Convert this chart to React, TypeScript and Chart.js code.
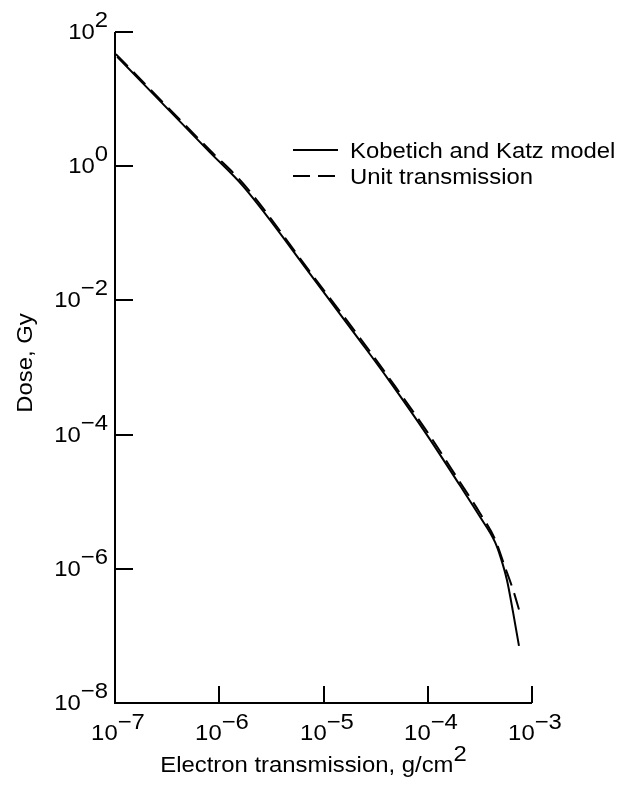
import React, { useEffect, useRef } from 'react';
import { Chart, registerables } from 'chart.js';

Chart.register(...registerables);

// Kobetich and Katz model (solid)
const kkX = [1.05e-7, 8.1e-7, 1.7e-6, 7.9e-6, 2.24e-5, 4.2e-5, 1.0e-4, 2.04e-4, 3.16e-4, 4.42e-4, 5.0e-4, 5.75e-4, 6.6e-4, 7.5e-4];
const kkY = [42.7, 1.62, 0.5, 0.0219, 2.5e-3, 6.6e-4, 9.5e-5, 1.74e-5, 6.0e-6, 2.5e-6, 1.48e-6, 6.8e-7, 2.2e-7, 7.1e-8];

// Unit transmission (dashed)
const utX = [1.02e-7, 8.1e-7, 1.7e-6, 7.9e-6, 2.24e-5, 4.2e-5, 1.0e-4, 2.04e-4, 3.16e-4, 4.42e-4, 5.5e-4, 6.6e-4, 7.67e-4];
const utY = [46.8, 1.74, 0.55, 0.0234, 2.75e-3, 7.2e-4, 1.07e-4, 1.95e-5, 6.8e-6, 2.75e-6, 1.07e-6, 4.8e-7, 2.2e-7];

const seriesLabels = ['Kobetich and Katz model', 'Unit transmission'];
const xTickExps = [-7, -6, -5, -4, -3];
const yTickExps = [2, 0, -2, -4, -6, -8];
const xTitle = 'Electron transmission, g/cm';
const xTitleSup = '2';
const yTitle = 'Dose, Gy';

const FONT = '"Liberation Sans", Arial, Helvetica, sans-serif';
const BASE = 22;
const SUP = 22;
const SX = 1.085;
const DASH = [17, 8];

function expText(e: number) {
  return e < 0 ? '\u2212' + String(-e) : String(e);
}

function tw(ctx: CanvasRenderingContext2D, text: string, size: number) {
  ctx.font = `${size}px ${FONT}`;
  return ctx.measureText(text).width * SX;
}

function dt(ctx: CanvasRenderingContext2D, text: string, x: number, y: number, size: number) {
  ctx.save();
  ctx.font = `${size}px ${FONT}`;
  ctx.textAlign = 'left';
  ctx.textBaseline = 'alphabetic';
  ctx.translate(x, y);
  ctx.scale(SX, 1);
  ctx.fillText(text, 0, 0);
  ctx.restore();
}

const customAxes = {
  id: 'customAxes',
  afterDraw(chart: any) {
    const ctx = chart.ctx as CanvasRenderingContext2D;
    const xs = chart.scales.x;
    const ys = chart.scales.y;
    const area = chart.chartArea;
    ctx.save();
    ctx.strokeStyle = '#000';
    ctx.fillStyle = '#000';
    ctx.lineWidth = 2;
    ctx.lineCap = 'butt';

    // axis lines
    ctx.beginPath();
    ctx.moveTo(area.left, area.top);
    ctx.lineTo(area.left, area.bottom);
    ctx.lineTo(area.right, area.bottom);
    ctx.stroke();

    // y ticks + labels
    yTickExps.forEach((e) => {
      const py = Math.round(ys.getPixelForValue(Math.pow(10, e)));
      ctx.beginPath();
      ctx.moveTo(area.left, py);
      ctx.lineTo(area.left + 18, py);
      ctx.stroke();
      const sup = expText(e);
      const ws = tw(ctx, sup, SUP);
      const wb = tw(ctx, '10', BASE);
      const right = area.left - 7;
      dt(ctx, sup, right - ws, py - 5, SUP);
      dt(ctx, '10', right - ws - wb, py + 7, BASE);
    });

    // x ticks + labels
    xTickExps.forEach((e) => {
      const px = Math.round(xs.getPixelForValue(Math.pow(10, e)));
      ctx.beginPath();
      ctx.moveTo(px, area.bottom);
      ctx.lineTo(px, area.bottom - 17);
      ctx.stroke();
      const sup = expText(e);
      const wb = tw(ctx, '10', BASE);
      const ws = tw(ctx, sup, SUP);
      const start = px + 3 - (wb + ws) / 2;
      dt(ctx, '10', start, area.bottom + 37, BASE);
      dt(ctx, sup, start + wb, area.bottom + 26, SUP);
    });

    // x title
    const wt = tw(ctx, xTitle, BASE);
    const wts = tw(ctx, xTitleSup, SUP);
    const tStart = (area.left + area.right) / 2 - 10 - (wt + wts) / 2;
    dt(ctx, xTitle, tStart, area.bottom + 69, BASE);
    dt(ctx, xTitleSup, tStart + wt, area.bottom + 58, SUP);

    // y title
    ctx.save();
    ctx.translate(32, 363);
    ctx.rotate(-Math.PI / 2);
    const wy = tw(ctx, yTitle, BASE);
    dt(ctx, yTitle, -wy / 2, 0, BASE);
    ctx.restore();

    // legend
    const lx0 = 293, lx1 = 338, tx = 350;
    ctx.lineWidth = 2;
    ctx.beginPath();
    ctx.moveTo(lx0, 150);
    ctx.lineTo(lx1, 150);
    ctx.stroke();
    ctx.setLineDash(DASH);
    ctx.beginPath();
    ctx.moveTo(lx0, 176);
    ctx.lineTo(lx1, 176);
    ctx.stroke();
    ctx.setLineDash([]);
    dt(ctx, seriesLabels[0], tx, 158, BASE);
    dt(ctx, seriesLabels[1], tx, 184, BASE);

    ctx.restore();
  },
};

export default function App() {
  const ref = useRef<HTMLCanvasElement | null>(null);
  useEffect(() => {
    if (!ref.current) return;
    const chart = new Chart(ref.current, {
      type: 'line',
      data: {
        datasets: [
          {
            label: seriesLabels[0],
            data: kkX.map((x, i) => ({ x, y: kkY[i] })),
            borderColor: '#000',
            borderWidth: 2,
            pointRadius: 0,
            cubicInterpolationMode: 'monotone',
            fill: false,
            clip: false as any,
          },
          {
            label: seriesLabels[1],
            data: utX.map((x, i) => ({ x, y: utY[i] })),
            borderColor: '#000',
            borderWidth: 2,
            borderDash: DASH,
            pointRadius: 0,
            cubicInterpolationMode: 'monotone',
            fill: false,
            clip: false as any,
          },
        ],
      },
      options: {
        animation: false,
        responsive: false,
        devicePixelRatio: 1,
        layout: { padding: { left: 115, right: 88, top: 32, bottom: 82 } },
        plugins: { legend: { display: false }, tooltip: { enabled: false } },
        scales: {
          x: { type: 'logarithmic', min: 1e-7, max: 1e-3, display: false },
          y: { type: 'logarithmic', min: 1e-8, max: 1e2, display: false },
        },
      },
      plugins: [customAxes],
    });
    return () => chart.destroy();
  }, []);
  return (
    <div style={{ position: 'absolute', left: 0, top: 0, width: 620, height: 785, background: '#fff' }}>
      <canvas ref={ref} width={620} height={785} />
    </div>
  );
}
